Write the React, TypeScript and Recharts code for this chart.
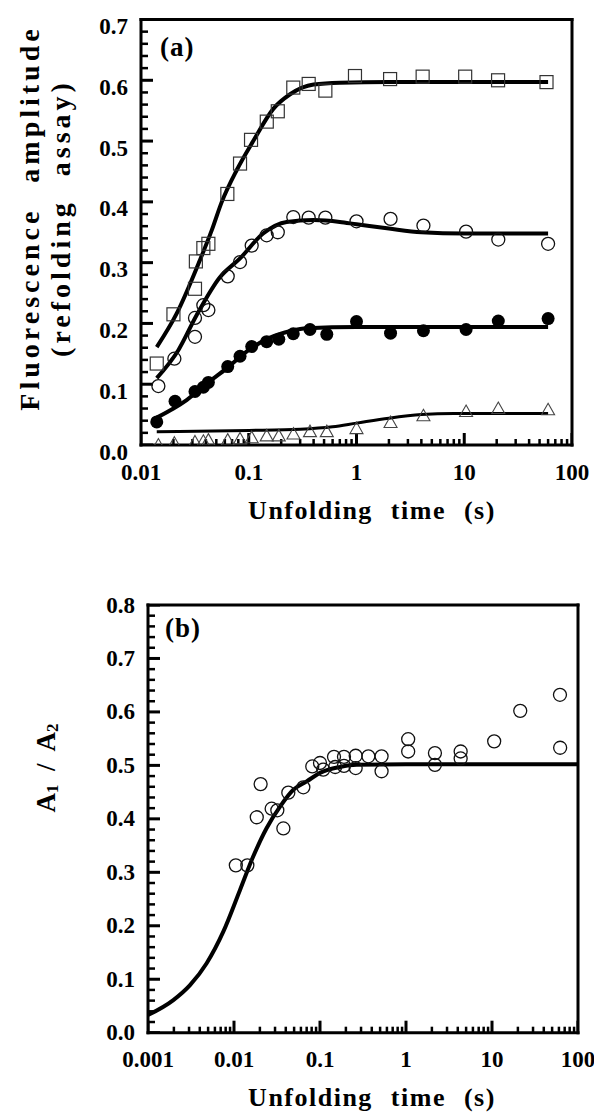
import React from 'react';
import { ComposedChart, Scatter, Line, XAxis, YAxis } from 'recharts';

// ---- panel (a): refolding-assay amplitude vs unfolding time ----
const squareT = [0.014, 0.02, 0.0317, 0.0323, 0.0379, 0.0422, 0.0633, 0.083, 0.105, 0.147, 0.186, 0.259, 0.36, 0.514, 0.968, 2.05, 4.11, 10.2, 20.6, 58];
const squareV = [0.134, 0.215, 0.257, 0.302, 0.324, 0.331, 0.413, 0.463, 0.502, 0.532, 0.549, 0.588, 0.594, 0.583, 0.607, 0.602, 0.606, 0.606, 0.6, 0.597];

const circleT = [0.0145, 0.0204, 0.0317, 0.0317, 0.0379, 0.0422, 0.0638, 0.083, 0.1065, 0.1467, 0.186, 0.259, 0.36, 0.514, 1.0, 2.07, 4.18, 10.4, 20.7, 60];
const circleV = [0.097, 0.142, 0.178, 0.209, 0.23, 0.222, 0.2775, 0.301, 0.328, 0.345, 0.35, 0.375, 0.374, 0.374, 0.368, 0.372, 0.361, 0.351, 0.338, 0.331];

const dotT = [0.014, 0.0207, 0.0317, 0.0379, 0.0422, 0.0638, 0.083, 0.1065, 0.1467, 0.19, 0.259, 0.37, 0.53, 1.0, 2.07, 4.18, 10.4, 20.7, 60];
const dotV = [0.038, 0.072, 0.088, 0.095, 0.103, 0.129, 0.146, 0.162, 0.17, 0.174, 0.183, 0.19, 0.182, 0.203, 0.184, 0.188, 0.19, 0.204, 0.208];

const triT = [0.0145, 0.0204, 0.0317, 0.0379, 0.0422, 0.0638, 0.083, 0.1065, 0.1467, 0.19, 0.26, 0.37, 0.53, 1.0, 2.07, 4.18, 10.4, 20.7, 60];
const triV = [0.0, 0.003, 0.005, 0.006, 0.008, 0.008, 0.01, 0.012, 0.015, 0.015, 0.018, 0.022, 0.022, 0.027, 0.037, 0.048, 0.055, 0.06, 0.058];

// fitted curves
const fitSquareT = [0.014, 0.0214, 0.0352, 0.0453, 0.0562, 0.0772, 0.11, 0.169, 0.242, 0.4, 0.7, 2, 60];
const fitSquareV = [0.161, 0.216, 0.304, 0.353, 0.4, 0.452, 0.5, 0.553, 0.577, 0.593, 0.596, 0.597, 0.597];

const fitCircleT = [0.014, 0.0222, 0.0328, 0.054, 0.083, 0.136, 0.225, 0.4, 0.7, 1, 2, 4, 10, 60];
const fitCircleV = [0.11, 0.156, 0.2135, 0.276, 0.307, 0.348, 0.367, 0.37, 0.367, 0.363, 0.356, 0.35, 0.348, 0.348];

const fitDotT = [0.014, 0.02, 0.0265, 0.04, 0.0624, 0.103, 0.15, 0.25, 0.345, 1, 60];
const fitDotV = [0.045, 0.06, 0.074, 0.1, 0.126, 0.158, 0.175, 0.188, 0.192, 0.194, 0.194];

const fitTriT = [0.014, 0.1, 0.3, 0.6, 1, 2, 4, 8, 60];
const fitTriV = [0.022, 0.024, 0.026, 0.03, 0.036, 0.044, 0.05, 0.052, 0.052];

// ---- panel (b): A1 / A2 ratio ----
const ratioT = [0.0105, 0.0143, 0.0184, 0.0204, 0.0274, 0.0319, 0.0375, 0.0428, 0.064, 0.0813, 0.1, 0.109, 0.1455, 0.15, 0.19, 0.19, 0.26, 0.26, 0.365, 0.52, 0.52, 1.06, 1.06, 2.17, 2.17, 4.32, 4.32, 10.6, 21.3, 61.7, 62];
const ratioV = [0.313, 0.313, 0.403, 0.465, 0.419, 0.416, 0.382, 0.449, 0.459, 0.498, 0.5045, 0.492, 0.516, 0.497, 0.516, 0.499, 0.518, 0.495, 0.517, 0.517, 0.489, 0.549, 0.526, 0.523, 0.501, 0.526, 0.513, 0.545, 0.602, 0.632, 0.533];

const fitRatioT = [0.001, 0.00197, 0.00308, 0.00481, 0.00751, 0.01175, 0.01676, 0.024, 0.0343, 0.049, 0.07, 0.1, 0.171, 0.267, 1, 100];
const fitRatioV = [0.033, 0.061, 0.089, 0.13, 0.189, 0.267, 0.33, 0.383, 0.423, 0.4545, 0.47, 0.486, 0.497, 0.501, 0.502, 0.502];

// axis ticks
const xMajorsA = [0.01, 0.1, 1, 10, 100];
const xLabelsA = ['0.01', '0.1', '1', '10', '100'];
const xMajorsB = [0.001, 0.01, 0.1, 1, 10, 100];
const xLabelsB = ['0.001', '0.01', '0.1', '1', '10', '100'];
const yMajorsA = [0, 0.1, 0.2, 0.3, 0.4, 0.5, 0.6, 0.7];
const yMajorsB = [0, 0.1, 0.2, 0.3, 0.4, 0.5, 0.6, 0.7, 0.8];

const FONT = '"Liberation Serif", "Times New Roman", serif';
const BLACK = '#000';

const pts = (t: number[], v: number[]) => t.map((x, i) => ({ t: x, v: v[i] }));

// the 2..9 minor ticks of every decade
const logMinors = (majors: number[]) => {
  const out: number[] = [];
  majors.slice(0, -1).forEach((m) => {
    for (let k = 2; k <= 9; k++) out.push(+(m * k).toPrecision(3));
  });
  return out;
};
// 0.02 steps that are not on a 0.1 major
const linMinors = (max: number) =>
  Array.from({ length: Math.round(max / 0.02) + 1 }, (_, i) => +(i * 0.02).toFixed(2))
    .filter((v) => Math.abs(v * 10 - Math.round(v * 10)) > 1e-6);

// inward tick marks, placed through the chart scales
const xMarks = (ticks: number[]) => ticks.map((t) => ({ t, v: 0 }));
const yMarks = (ticks: number[], xMin: number) => ticks.map((v) => ({ t: xMin, v }));
const upTick = (len: number, w: number) => (p: any) => (
  <rect x={p.cx - w / 2} y={p.cy - len} width={w} height={len} fill={BLACK} />
);
const rightTick = (len: number, w: number) => (p: any) => (
  <rect x={p.cx} y={p.cy - w / 2} width={len} height={w} fill={BLACK} />
);

const XLabel = (props: any) => {
  const { x, y, payload, majors, labels } = props;
  const idx = majors.findIndex((m: number) => Math.abs(m - payload.value) / m < 1e-6);
  return (
    <text x={x} y={y} textAnchor="middle" dominantBaseline="central"
      fontFamily={FONT} fontWeight="bold" fontSize={23} fill={BLACK}>
      {idx >= 0 ? labels[idx] : ''}
    </text>
  );
};

const YLabel = (props: any) => {
  const { x, y, payload, labelDy } = props;
  return (
    <text x={x} y={y + labelDy} textAnchor="end" dominantBaseline="central"
      fontFamily={FONT} fontWeight="bold" fontSize={23} fill={BLACK}>
      {payload.value.toFixed(1)}
    </text>
  );
};

const noTick = () => <g />;

const Square = (p: any) => (
  <rect x={p.cx - 6.5} y={p.cy - 6.5} width={13} height={13} fill="none" stroke="#333" strokeWidth={1.2} />
);
const OpenCircle = (p: any) => <circle cx={p.cx} cy={p.cy} r={6.5} fill="none" stroke="#111" strokeWidth={1.3} />;
const FilledCircle = (p: any) => <circle cx={p.cx} cy={p.cy} r={6.5} fill={BLACK} />;
const Triangle = (p: any) => (
  <path d={`M${p.cx},${p.cy - 6.5} L${p.cx + 6.5},${p.cy + 5} L${p.cx - 6.5},${p.cy + 5} Z`} fill="none" stroke="#444" strokeWidth={1.1} />
);

const frameLine = { stroke: BLACK, strokeWidth: 3, strokeLinecap: 'square' as const };
const fitProps = { type: 'monotone' as const, dataKey: 'v', stroke: BLACK, strokeWidth: 4, dot: false, isAnimationActive: false, activeDot: false };

const App: React.FC = () => {
  return (
    <div style={{ position: 'absolute', left: 0, top: 0, width: 594, height: 1120, background: '#fff' }}>
      <div style={{ position: 'absolute', left: 0, top: 0 }}>
        <ComposedChart width={594} height={540} margin={{ top: 19.5, right: 22, left: 81, bottom: 55 }}>
          <XAxis dataKey="t" type="number" scale="log" domain={[0.01, 100]} allowDataOverflow
            ticks={xMajorsA} interval={0} height={40} tickSize={0} tickMargin={27}
            axisLine={frameLine} tickLine={false}
            tick={(p: any) => <XLabel {...p} majors={xMajorsA} labels={xLabelsA} />} />
          <XAxis xAxisId="top" orientation="top" type="number" scale="log" domain={[0.01, 100]} allowDataOverflow mirror
            ticks={xMajorsA} height={1} axisLine={frameLine} tickLine={false} tick={noTick} />
          <YAxis dataKey="v" type="number" domain={[0, 0.7]} allowDataOverflow
            ticks={yMajorsA} interval={0} width={60} tickSize={0} tickMargin={13}
            axisLine={frameLine} tickLine={false}
            tick={(p: any) => <YLabel {...p} labelDy={7} />} />
          <YAxis yAxisId="right" orientation="right" type="number" domain={[0, 0.7]} allowDataOverflow mirror
            ticks={yMajorsA} width={1} axisLine={frameLine} tickLine={false} tick={noTick} />
          <Scatter data={xMarks(xMajorsA)} shape={upTick(12, 3)} isAnimationActive={false} />
          <Scatter data={xMarks(logMinors(xMajorsA))} shape={upTick(6, 2.5)} isAnimationActive={false} />
          <Scatter data={yMarks(yMajorsA, 0.01)} shape={rightTick(12, 3)} isAnimationActive={false} />
          <Scatter data={yMarks(linMinors(0.7), 0.01)} shape={rightTick(7, 2.5)} isAnimationActive={false} />
          <Line data={pts(fitSquareT, fitSquareV)} {...fitProps} />
          <Line data={pts(fitCircleT, fitCircleV)} {...fitProps} />
          <Line data={pts(fitDotT, fitDotV)} {...fitProps} />
          <Line data={pts(fitTriT, fitTriV)} {...fitProps} strokeWidth={3} />
          <Scatter data={pts(squareT, squareV)} shape={Square} isAnimationActive={false} />
          <Scatter data={pts(circleT, circleV)} shape={OpenCircle} isAnimationActive={false} />
          <Scatter data={pts(dotT, dotV)} shape={FilledCircle} isAnimationActive={false} />
          <Scatter data={pts(triT, triV)} shape={Triangle} isAnimationActive={false} />
        </ComposedChart>
      </div>
      <div style={{ position: 'absolute', left: 0, top: 560 }}>
        <ComposedChart width={594} height={560} margin={{ top: 45, right: 16, left: 88, bottom: 47.3 }}>
          <XAxis dataKey="t" type="number" scale="log" domain={[0.001, 100]} allowDataOverflow
            ticks={xMajorsB} interval={0} height={40} tickSize={0} tickMargin={27}
            axisLine={frameLine} tickLine={false}
            tick={(p: any) => <XLabel {...p} majors={xMajorsB} labels={xLabelsB} />} />
          <XAxis xAxisId="top" orientation="top" type="number" scale="log" domain={[0.001, 100]} allowDataOverflow mirror
            ticks={xMajorsB} height={1} axisLine={frameLine} tickLine={false} tick={noTick} />
          <YAxis dataKey="v" type="number" domain={[0, 0.8]} allowDataOverflow
            ticks={yMajorsB} interval={0} width={60} tickSize={0} tickMargin={13}
            axisLine={frameLine} tickLine={false}
            tick={(p: any) => <YLabel {...p} labelDy={0} />} />
          <YAxis yAxisId="right" orientation="right" type="number" domain={[0, 0.8]} allowDataOverflow mirror
            ticks={yMajorsB} width={1} axisLine={frameLine} tickLine={false} tick={noTick} />
          <Scatter data={xMarks(xMajorsB)} shape={upTick(12, 3)} isAnimationActive={false} />
          <Scatter data={xMarks(logMinors(xMajorsB))} shape={upTick(6, 2.5)} isAnimationActive={false} />
          <Scatter data={yMarks(yMajorsB, 0.001)} shape={rightTick(12, 3)} isAnimationActive={false} />
          <Scatter data={yMarks(linMinors(0.8), 0.001)} shape={rightTick(7, 2.5)} isAnimationActive={false} />
          <Line data={pts(fitRatioT, fitRatioV)} {...fitProps} />
          <Scatter data={pts(ratioT, ratioV)} shape={OpenCircle} isAnimationActive={false} />
        </ComposedChart>
      </div>
      <svg width={594} height={1120} style={{ position: 'absolute', left: 0, top: 0, pointerEvents: 'none' }}
        fontFamily={FONT} fontWeight="bold" fill={BLACK}>
        <text x={160} y={56} fontSize={27} letterSpacing={1}>(a)</text>
        <text x={165} y={637} fontSize={27} letterSpacing={1}>(b)</text>
        <text transform="translate(29,218) rotate(-90)" textAnchor="middle" dominantBaseline="central"
          fontSize={28} letterSpacing={4} wordSpacing={14}>Fluorescence amplitude</text>
        <text transform="translate(60,218) rotate(-90)" textAnchor="middle" dominantBaseline="central"
          fontSize={28} letterSpacing={4} wordSpacing={12}>(refolding assay)</text>
        <text transform="translate(46,768) rotate(-90)" textAnchor="middle" dominantBaseline="central"
          fontSize={27}>
          A<tspan dy={6} fontSize={17}>1</tspan><tspan dy={-6} xmlSpace="preserve">{'  /  '}A</tspan><tspan dy={6} fontSize={17}>2</tspan>
        </text>
        <text x={372} y={519} textAnchor="middle" fontSize={26} letterSpacing={1.5} wordSpacing={10}>Unfolding time (s)</text>
        <text x={372} y={1106} textAnchor="middle" fontSize={26} letterSpacing={1.5} wordSpacing={10}>Unfolding time (s)</text>
      </svg>
    </div>
  );
};

export default App;
